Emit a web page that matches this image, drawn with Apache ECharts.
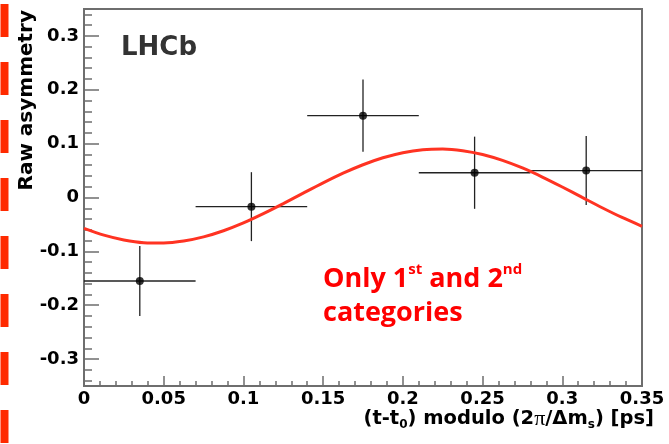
<!DOCTYPE html>
<html><head><meta charset="utf-8">
<script src="https://cdn.jsdelivr.net/npm/echarts@6/dist/echarts.min.js"></script>
<style>html,body{margin:0;padding:0;background:#fff}#c{width:669px;height:444px}</style>
</head><body><div id="c"></div>
<script>
// ---- data ----
const binCenters = [0.035, 0.105, 0.175, 0.245, 0.315];
const binHalfWidth = [0.035, 0.035, 0.035, 0.035, 0.035];
const asymmetry = [-0.155, -0.017, 0.152, 0.046, 0.050];
const asymErr = [0.065, 0.064, 0.067, 0.067, 0.064];
const curveX = [0, 0.0125, 0.025, 0.0375, 0.05, 0.0625, 0.075, 0.0875, 0.1, 0.1125, 0.125, 0.1375, 0.15, 0.1625,
  0.175, 0.1875, 0.2, 0.2125, 0.225, 0.2375, 0.25, 0.2625, 0.275, 0.2875, 0.3, 0.3125, 0.325, 0.3375, 0.35];
const curveY = [-0.0574, -0.0699, -0.0788, -0.0838, -0.0844, -0.0808, -0.0731, -0.0617, -0.0472, -0.0300, -0.0114,
  0.0080, 0.0271, 0.0451, 0.0608, 0.0737, 0.0832, 0.0887, 0.0900, 0.0870, 0.0799, 0.0689, 0.0548, 0.0380, 0.0195,
  0.0002, -0.0190, -0.0371, -0.0534];
const yMajorTicks = [-0.3, -0.2, -0.1, 0, 0.1, 0.2, 0.3];
const yTitle = 'Raw asymmetry';
const experiment = 'LHCb';

const frameColor = '#6e6e6e';
const labelFont = { fontFamily: 'DejaVu Sans', fontWeight: 'bold', fontSize: 18, color: '#000' };

const chart = echarts.init(document.getElementById('c'), null, { renderer: 'canvas' });
const errData = binCenters.map((x, i) => [x, asymmetry[i], binHalfWidth[i], asymErr[i]]);
const hiddenLine = { show: false, onZero: false };

chart.setOption({
  animation: false,
  backgroundColor: '#fff',
  grid: { left: 84, right: 27, top: 9, bottom: 58, show: true, borderColor: frameColor, borderWidth: 2, backgroundColor: 'transparent' },
  xAxis: {
    type: 'value', min: 0, max: 0.35, interval: 0.05,
    axisLine: hiddenLine,
    splitLine: { show: false },
    axisTick: { show: true, inside: true, length: 10, lineStyle: { color: frameColor, width: 1.5 } },
    minorTick: { show: true, splitNumber: 5, length: 5, lineStyle: { color: frameColor, width: 1.5 } },
    axisLabel: Object.assign({ margin: 4, showMinLabel: true, showMaxLabel: true, formatter: v => String(+(+v).toFixed(2)) }, labelFont)
  },
  yAxis: [{
    // labels
    type: 'value', min: -0.35, max: 0.35, position: 'left',
    axisLine: hiddenLine,
    splitLine: { show: false },
    axisTick: { show: false },
    axisLabel: Object.assign({ margin: 5, customValues: yMajorTicks, formatter: v => String(+(+v).toFixed(2)) }, labelFont)
  }, {
    // major ticks
    type: 'value', min: -0.35, max: 0.35, splitNumber: 7, position: 'left', offset: 0,
    axisLine: hiddenLine,
    splitLine: { show: false },
    axisTick: { show: true, inside: true, length: 15, lineStyle: { color: frameColor, width: 1.5 } },
    axisLabel: { show: false }
  }, {
    // minor ticks
    type: 'value', min: -0.35, max: 0.35, splitNumber: 35, position: 'left', offset: 0,
    axisLine: hiddenLine,
    splitLine: { show: false },
    axisTick: { show: true, inside: true, length: 8, lineStyle: { color: frameColor, width: 1.5 } },
    axisLabel: { show: false }
  }],
  series: [{
    type: 'custom', yAxisIndex: 0, z: 3,
    data: errData,
    renderItem: function (params, api) {
      const x = api.value(0), y = api.value(1), xe = api.value(2), ye = api.value(3);
      const l = api.coord([x - xe, y]), r = api.coord([x + xe, y]);
      const t = api.coord([x, y + ye]), b = api.coord([x, y - ye]);
      const st = { stroke: '#222', lineWidth: 1.3 };
      return { type: 'group', children: [
        { type: 'line', shape: { x1: l[0], y1: l[1], x2: r[0], y2: r[1] }, style: st },
        { type: 'line', shape: { x1: t[0], y1: t[1], x2: b[0], y2: b[1] }, style: st }
      ] };
    }
  }, {
    type: 'line', yAxisIndex: 0, z: 4,
    data: curveX.map((x, i) => [x, curveY[i]]),
    smooth: 0.3, symbol: 'none',
    lineStyle: { color: '#ff3322', width: 3 }
  }, {
    type: 'scatter', yAxisIndex: 0, z: 5,
    data: binCenters.map((x, i) => [x, asymmetry[i]]),
    symbol: 'circle', symbolSize: 8,
    itemStyle: { color: '#000' }
  }],
  graphic: [
    { type: 'line', z: 10, shape: { x1: 4.5, y1: 4, x2: 4.5, y2: 444 }, style: { stroke: '#ff2a00', lineWidth: 8, lineDash: [33, 25] } },
    { type: 'text', z: 10, x: 27, y: 10, rotation: Math.PI / 2,
      style: { text: yTitle, font: 'bold 20px "DejaVu Sans"', fill: '#000', align: 'right', verticalAlign: 'middle' } },
    { type: 'text', z: 10, x: 121, y: 48,
      style: { text: experiment, font: 'bold 26px "DejaVu Sans"', fill: '#333', align: 'left', verticalAlign: 'middle' } },
    { type: 'text', z: 10, x: 654, y: 407,
      style: {
        text: '(t-t{sub|0}) modulo (2{pi|π}/Δm{sub|s}) [ps]',
        align: 'right', verticalAlign: 'top',
        font: 'bold 19.5px "DejaVu Sans"', fill: '#000', lineHeight: 24,
        rich: {
          sub: { font: 'bold 12px "DejaVu Sans"', fill: '#000', verticalAlign: 'bottom', lineHeight: 12 },
          pi: { font: '22px "Liberation Serif"', fill: '#000', lineHeight: 24 }
        }
      } },
    { type: 'text', z: 10, x: 323, y: 262,
      style: {
        text: 'Only 1{sup|st} and 2{sup|nd}\ncategories',
        align: 'left', verticalAlign: 'top',
        font: 'bold 27px "Open Sans"', fill: '#ff0000', lineHeight: 34,
        rich: {
          sup: { font: 'bold 15px "Open Sans"', fill: '#ff0000', verticalAlign: 'top', lineHeight: 21 }
        }
      } }
  ]
});
</script></body></html>
